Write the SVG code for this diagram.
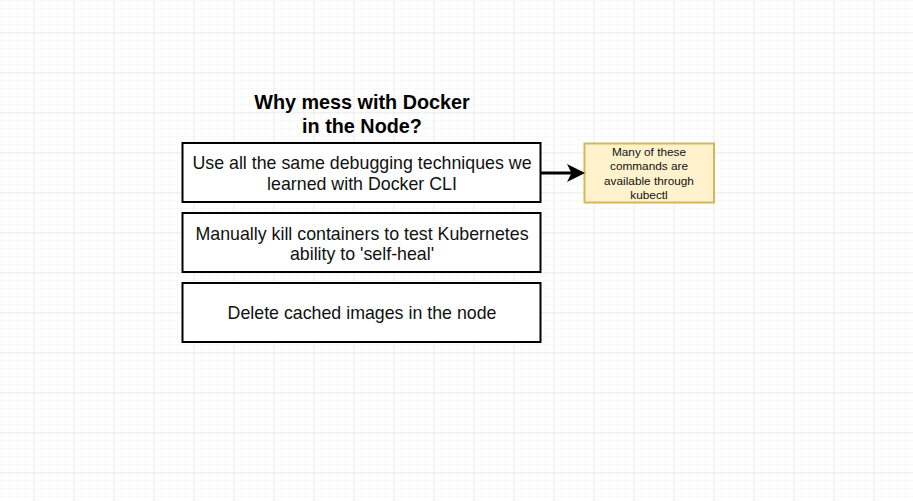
<svg xmlns="http://www.w3.org/2000/svg" width="913" height="501" viewBox="0 0 913 501">
<defs>
<pattern id="minor" x="2" y="1" width="8" height="8" patternUnits="userSpaceOnUse">
<path d="M8 0V8M0 8H8" fill="none" stroke="#f2f2f2" stroke-width="1"/>
</pattern>
<pattern id="major" x="-5.5" y="-6.5" width="40" height="40" patternUnits="userSpaceOnUse">
<path d="M40 0V40M0 40H40" fill="none" stroke="#dedede" stroke-width="1"/>
</pattern>
<marker id="arr" markerWidth="6" markerHeight="6" refX="5" refY="3" orient="auto" markerUnits="strokeWidth">
<path d="M0,0 L6,3 L0,6 L1.5,3 Z" fill="#000"/>
</marker>
<style>
.box{fill:#fff;stroke:#000;stroke-width:2}
.t{font-family:"Liberation Sans",Arial,sans-serif;font-size:17.8px;fill:#111;text-anchor:middle}
.title{font-family:"Liberation Sans",Arial,sans-serif;font-size:19.8px;font-weight:bold;fill:#000;text-anchor:middle}
.note{fill:#fff2cc;stroke:#d6b656;stroke-width:2}
.nt{font-family:"Liberation Sans",Arial,sans-serif;font-size:11.8px;fill:#111;text-anchor:middle}
</style>
</defs>
<rect width="913" height="501" fill="#fff"/>
<rect width="913" height="501" fill="url(#minor)"/>
<rect width="913" height="501" fill="url(#major)"/>
<g id="title">
<text class="title" x="362" y="108.5">Why mess with Docker</text>
<text class="title" x="362" y="132.5">in the Node?</text>
</g>
<g id="node1">
<rect class="box" x="182.5" y="143" width="358" height="59"/>
<text class="t" x="362" y="168.8">Use all the same debugging techniques we</text>
<text class="t" x="362" y="189.8">learned with Docker CLI</text>
</g>
<g id="node2">
<rect class="box" x="182.5" y="213" width="358" height="59"/>
<text class="t" x="362" y="239.6">Manually kill containers to test Kubernetes</text>
<text class="t" x="362" y="259.8">ability to 'self-heal'</text>
</g>
<g id="node3">
<rect class="box" x="182.5" y="283" width="358" height="59"/>
<text class="t" x="362" y="318.8">Delete cached images in the node</text>
</g>
<g id="note">
<rect class="note" x="584.5" y="143.5" width="129.5" height="59"/>
<text class="nt" x="649" y="156">Many of these</text>
<text class="nt" x="649" y="170.3">commands are</text>
<text class="nt" x="649" y="184.7">available through</text>
<text class="nt" x="649" y="199">kubectl</text>
</g>
<g id="connectors">
<path d="M541 173 H582" fill="none" stroke="#000" stroke-width="3" marker-end="url(#arr)"/>
</g>
</svg>
